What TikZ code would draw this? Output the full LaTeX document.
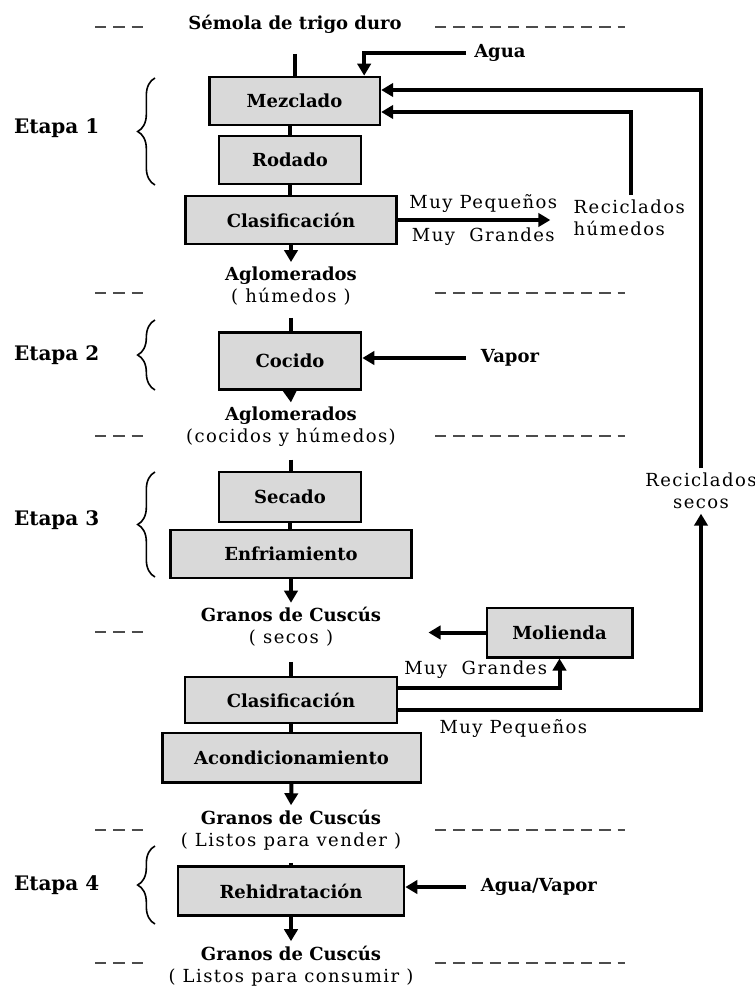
\documentclass[tikz,border=0pt]{standalone}
\usepackage{fontspec}
\setmainfont{DejaVu Serif}
\newfontfamily\ancha[LetterSpace=8]{DejaVu Serif}
\usetikzlibrary{positioning, calc}
\usetikzlibrary{arrows.meta}
\usetikzlibrary{decorations.pathreplacing}
\definecolor{cajagris}{RGB}{217,217,217}
\tikzset{
	caja/.style={draw, line width=2pt, fill=cajagris, inner sep=0pt, minimum height=36pt,
		font=\bfseries\fontsize{13.5}{16}\selectfont},
	etapa/.style={anchor=east, font=\bfseries\fontsize{15}{18}\selectfont},
	producto/.style={align=center, font=\fontsize{13.5}{16.5}\selectfont},
	entrada/.style={anchor=west, inner ysep=4pt, font=\bfseries\fontsize{13.5}{16}\selectfont},
	nota/.style={font=\ancha\fontsize{13.5}{16.5}\selectfont},
	flujo/.style={line width=3pt, -{Triangle[length=9pt,width=10pt]}},
	tramo/.style={line width=2.5pt},
	guiones/.style={line width=1.6pt, gray!60!black, dash pattern=on 8.5pt off 5.2pt},
	llave/.style={decorate, decoration={brace, amplitude=13pt}, line width=1.2pt},
}

\begin{document}
\begin{tikzpicture}[x=0.75pt, y=-0.75pt]
	\useasboundingbox (0,0) rectangle (755,989);

	% separadores
	\foreach \y in {27, 293, 436, 632, 830, 963}
		\draw[guiones] (95,\y) -- (145,\y);
	\foreach \y in {27, 293, 436, 830, 963}
		\draw[guiones] (435,\y) -- (625,\y);

	% etapas
	\node[etapa] (e1) at (104,128) {Etapa 1};
	\node[etapa] (e2) at (104,355) {Etapa 2};
	\node[etapa] (e3) at (104,520) {Etapa 3};
	\node[etapa] (e4) at (104,885) {Etapa 4};
	\draw[llave] (155,185) -- (155,78);
	\draw[llave] (155,390) -- (155,320);
	\draw[llave] (155,577) -- (155,472);
	\draw[llave] (155,924) -- (155,846);

	% columna central
	\node[producto] (semola) at (295,24) {\textbf{Sémola de trigo duro}};
	\node[caja, minimum width=128pt] (mezclado) at (294.5,101) {Mezclado};
	\node[caja, minimum width=106.5pt] (rodado) at (290,160) {Rodado};
	\node[caja, minimum width=158pt] (clasif1) at (291,220) {Clasificación};
	\node[producto] (aglo1) at (291,286) {\textbf{Aglomerados}\\{\ancha( húmedos )}};
	\node[caja, minimum width=106.5pt, minimum height=43pt] (cocido) at (290,361) {Cocido};
	\node[producto] (aglo2) at (291,427) {\textbf{Aglomerados}\\{\ancha(cocidos y húmedos)}};
	\node[caja, minimum width=106.5pt, minimum height=37.5pt] (secado) at (290,497) {Secado};
	\node[caja, minimum width=181pt] (enfriam) at (291,554) {Enfriamiento};
	\node[producto] (granos1) at (291,627) {\textbf{Granos de Cuscús}\\{\ancha( secos )}};
	\node[caja, minimum width=159pt, minimum height=34.5pt] (clasif2) at (291,700) {Clasificación};
	\node[caja, minimum width=194pt, minimum height=37pt] (acond) at (291.5,757.5) {Acondicionamiento};
	\node[producto] (granos2) at (291,830) {\textbf{Granos de Cuscús}\\{\ancha( Listos para vender )}};
	\node[caja, minimum width=169.5pt, minimum height=37pt] (rehid) at (291,891) {Rehidratación};
	\node[producto] (granos3) at (291,966) {\textbf{Granos de Cuscús}\\{\ancha( Listos para consumir )}};

	% lado derecho
	\node[entrada, inner xsep=6pt] (agua) at (466,53) {Agua};
	\node[entrada, inner xsep=11pt] (vapor) at (466,358) {Vapor};
	\node[entrada, inner xsep=11pt] (aguavapor) at (466,887) {Agua/Vapor};
	\node[nota, align=left, anchor=north west] (rechum) at (569,195) {Reciclados\\húmedos};
	\node[nota, align=center] (recsec) at (701,491) {Reciclados\\secos};
	\node[caja, minimum width=109pt, minimum height=37pt] (molienda) at (559.5,632.5) {Molienda};

	% conexiones
	\draw[tramo, shorten <=12pt] (semola.south) -- (semola.south |- mezclado.north);
	\draw[tramo] (rodado.north) -- (rodado.north |- mezclado.south);
	\draw[tramo] (rodado.south) -- (rodado.south |- clasif1.north);
	\draw[flujo] (clasif1.south) -- (aglo1.north);
	\draw[tramo, shorten <=6pt] (aglo1.south) -- (aglo1.south |- cocido.north);
	\draw[flujo] (cocido.south) -- (aglo2.north);
	\draw[tramo, shorten <=6pt] (aglo2.south) -- (aglo2.south |- secado.north);
	\draw[tramo] (secado.south) -- (secado.south |- enfriam.north);
	\draw[flujo] (enfriam.south) -- (granos1.north);
	\draw[tramo, shorten <=8pt] (granos1.south) -- (granos1.south |- clasif2.north);
	\draw[tramo] (clasif2.south) -- (clasif2.south |- acond.north);
	\draw[flujo] (acond.south) -- (granos2.north);
	\draw[tramo, shorten <=6pt] (granos2.south) -- (granos2.south |- rehid.north);
	\draw[flujo] (rehid.south) -- (granos3.north);

	\draw[flujo] (agua.west) -| ($(mezclado.north east)+(-17,0)$);
	\draw[flujo] (vapor.west) -- (vapor.west -| cocido.east);
	\draw[flujo] (aguavapor.west) -- (aguavapor.west -| rehid.east);
	\draw[flujo, shorten >=14pt] (clasif1.east) -- (clasif1.east -| rechum.west)
		node[nota, midway, above=1pt] {Muy Pequeños}
		node[nota, midway, below=1pt] {Muy~ Grandes};
	\draw[flujo] ($(rechum.north)+(2,0)$) |- ($(mezclado.east)+(0,11)$);
	\draw[flujo] (recsec.north) |- ($(mezclado.east)+(0,-11)$);
	\draw[flujo] ($(clasif2.east)+(0,10)$) -| (recsec.south)
		node[nota, pos=0.19, below=2pt] {Muy Pequeños};
	\draw[flujo] ($(clasif2.east)+(0,-12)$) -| (molienda.south)
		node[nota, pos=0.24, above=2pt] {Muy~ Grandes};
	\draw[flujo] (molienda.west) -- ++(-57,0);
\end{tikzpicture}
\end{document}
